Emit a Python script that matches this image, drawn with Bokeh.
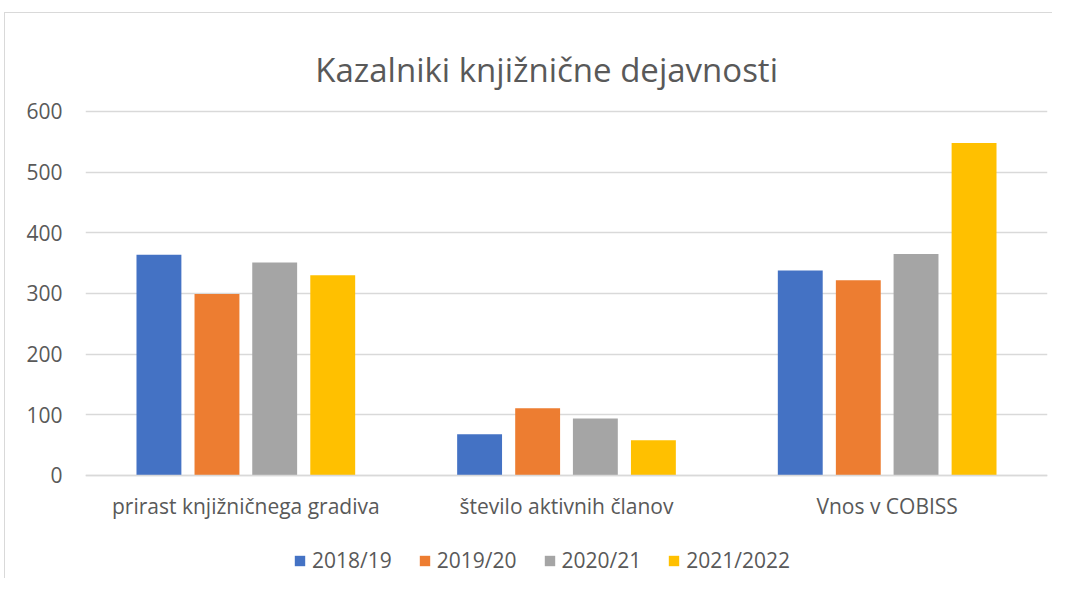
from bokeh.plotting import figure
from bokeh.models import FactorRange, Range1d, Legend, LegendItem, Label
from bokeh.transform import dodge
from bokeh.models import ColumnDataSource
from bokeh.embed import file_html
from bokeh.resources import INLINE

title_text = "Kazalniki knjižnične dejavnosti"
categories = ["prirast knjižničnega gradiva", "število aktivnih članov", "Vnos v COBISS"]
series = ["2018/19", "2019/20", "2020/21", "2021/2022"]
v2018_19 = [364, 68, 338]
v2019_20 = [299, 111, 322]
v2020_21 = [351, 94, 365]
v2021_2022 = [330, 58, 548]
y_ticks = [0, 100, 200, 300, 400, 500, 600]
colors = ["#4472C4", "#ED7D31", "#A5A5A5", "#FFC000"]

FONT = "Open Sans"
TXT = "#595959"

source = ColumnDataSource(data=dict(cat=categories, s0=v2018_19, s1=v2019_20, s2=v2020_21, s3=v2021_2022))

p = figure(frame_width=962, frame_height=565, x_range=FactorRange(*categories, range_padding=0),
           y_range=Range1d(-169.8, 761.5), output_backend="svg", toolbar_location=None,
           min_border_left=80, min_border_right=5, min_border_top=0, min_border_bottom=0,
           styles={"margin-left": "4px", "margin-top": "12px",
                   "border-left": "1px solid #d9d9d9", "border-top": "1px solid #d9d9d9"})
p.title = None

offsets = [-0.271, -0.09, 0.09, 0.271]
items = []
for i, (name, col) in enumerate(zip(series, colors)):
    r = p.vbar(x=dodge("cat", offsets[i], range=p.x_range), top="s%d" % i, width=0.14,
               source=source, fill_color=col, line_color=None)
    items.append(LegendItem(label=name, renderers=[r]))

p.add_layout(Label(x=1.438, y=670, text=title_text, text_align="center", text_baseline="alphabetic",
                   text_font=FONT, text_font_size="33px", text_color=TXT))

p.outline_line_color = None
p.xgrid.grid_line_color = None
p.ygrid.grid_line_color = "#d9d9d9"
p.ygrid.grid_line_width = 1.3
p.yaxis.ticker = y_ticks
p.yaxis.axis_line_color = None
p.yaxis.major_tick_line_color = None
p.yaxis.minor_tick_line_color = None
p.yaxis.major_label_text_font = FONT
p.yaxis.major_label_text_font_size = "21px"
p.yaxis.major_label_text_color = TXT
p.yaxis.major_label_standoff = 17

p.xaxis.fixed_location = 0
p.xaxis.axis_line_color = "#d9d9d9"
p.xaxis.axis_line_width = 1.3
p.xaxis.major_tick_line_color = None
p.xaxis.minor_tick_line_color = None
p.xaxis.major_label_text_font = FONT
p.xaxis.major_label_text_font_size = "21px"
p.xaxis.major_label_text_color = TXT
p.xaxis.major_label_standoff = 11

legend = Legend(items=items, orientation="horizontal", location=(208, 4),
                label_text_font=FONT, label_text_font_size="21px", label_text_color=TXT,
                glyph_width=13, glyph_height=13, label_standoff=6, spacing=26,
                border_line_color=None, background_fill_alpha=0, margin=0, padding=0)
p.add_layout(legend, "center")

open("out.html", "w").write(file_html(p, INLINE))
